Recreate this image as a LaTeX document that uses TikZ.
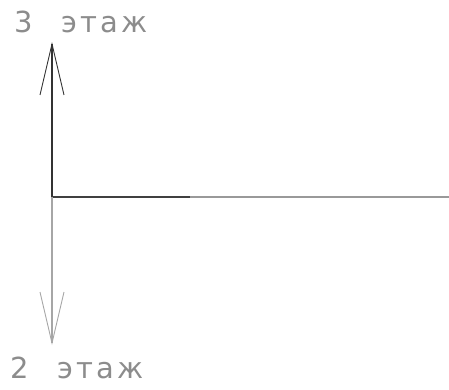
\documentclass[tikz,border=0pt]{standalone}
\usepackage{fontspec}
\setmainfont{DejaVu Sans}
\newfontfamily\floorfont[LetterSpace=11, WordSpace=2.3]{DejaVu Sans}
\usepackage{tikz}
\usetikzlibrary{arrows.meta, positioning}

\begin{document}
\begin{tikzpicture}[x=1pt, y=-1pt,
    floor/.style={anchor=base west, inner sep=0pt, text=black!45,
        font=\floorfont\fontsize{29}{29}\selectfont},
    barb/.style={-{Straight Barb[length=51pt, width=24pt, line width=0.9pt]}}]
    % Page frame
    \useasboundingbox (0,0) rectangle (449,389);

    % Points of the section
    \coordinate (O) at (52,197);
    \coordinate (U) at (52,42);
    \coordinate (D) at (52,345);
    \coordinate (M) at (190,197);
    \coordinate (E) at (449,197);

    % Level line
    \draw[line width=1.2pt, black!75] (O) -- (M);
    \draw[line width=1.2pt, black!40] (M) -- (E);

    % Arrows up and down
    \draw[line width=1.2pt, black!80, barb] (O) -- (U);
    \draw[line width=1.2pt, black!35, barb] (O) -- (D);

    % Labels
    \node[floor] (up) at (14,32) {3 этаж};
    \node[floor] (down) at (10,378) {2 этаж};
\end{tikzpicture}
\end{document}
